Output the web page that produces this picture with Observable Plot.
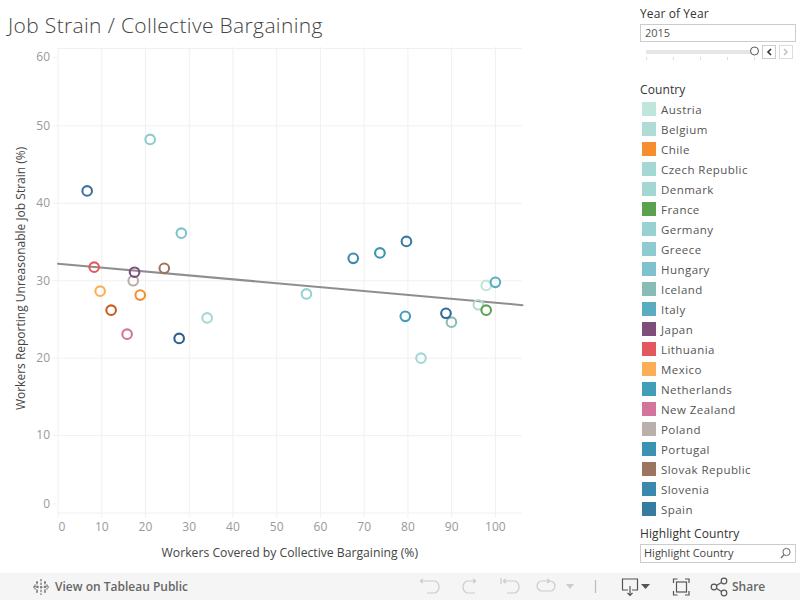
<!DOCTYPE html>
<html>
<head>
<meta charset="utf-8">
<script src="https://cdn.jsdelivr.net/npm/d3@7"></script>
<script src="https://cdn.jsdelivr.net/npm/@observablehq/plot@0.6"></script>
<style>
html,body{margin:0;padding:0;background:#fff;width:800px;height:600px;overflow:hidden;font-family:"Open Sans",sans-serif}
.a{position:absolute;white-space:nowrap}
#title{left:8px;top:11px;font-size:21px;line-height:28px;color:#444;font-weight:300;letter-spacing:.35px}
#plot{left:0;top:0}
#plot svg{display:block;background:transparent}
.h{font-size:12px;line-height:16px;color:#333;left:640px;letter-spacing:.1px}
.box{left:640px;width:154px;border:1px solid #ccc;box-sizing:content-box;background:#fff;font-size:11px;color:#555;padding-left:0}
.sw{left:642px;width:14px;height:14px}
.lt{left:661px;font-size:11.5px;line-height:16px;color:#555;letter-spacing:.45px}
#bar{left:0;top:573px;width:800px;height:27px;background:#f5f5f5}
.bt{font-size:12px;font-weight:600;color:#666;line-height:16px}
</style>
</head>
<body>
<div class="a" id="plot"></div>
<div class="a" id="title">Job Strain / Collective Bargaining</div>
<div class="a h" style="top:6px">Year of Year</div>
<div class="a box" style="top:24px;height:16px;line-height:16px"><span style="margin-left:4px">2015</span></div>
<svg class="a" style="left:640px;top:42px" width="160" height="22">
  <rect x="6" y="8" width="108" height="4" fill="#e6e6e6"/>
  <g stroke="#ddd"><path d="M6.5 15v3M33.5 15v3M60.5 15v3M87.5 15v3M114.5 15v3"/></g>
  <circle cx="114.5" cy="9" r="4" fill="#fff" stroke="#555"/>
  <rect x="122.5" y="3.5" width="13" height="13" fill="#fff" stroke="#ccc"/>
  <path d="M131 7l-3 3 3 3" fill="none" stroke="#333" stroke-width="1.6"/>
  <rect x="139.5" y="3.5" width="13" height="13" fill="#fff" stroke="#ddd"/>
  <path d="M144 7l3 3-3 3" fill="none" stroke="#bbb" stroke-width="1.4"/>
</svg>
<div class="a h" style="top:82px">Country</div>
<div id="legend"></div>
<div class="a h" style="top:526px">Highlight Country</div>
<div class="a box" style="top:544px;height:17px;line-height:16px;color:#444"><span style="margin-left:3px">Highlight Country</span></div>
<svg class="a" style="left:779px;top:546px" width="14" height="14"><circle cx="7.5" cy="6" r="3.6" fill="none" stroke="#666"/><path d="M5 8.6L2 12" stroke="#666" stroke-width="1.2"/></svg>
<div class="a" id="bar"></div>
<svg class="a" style="left:32px;top:577px" width="18" height="20" fill="none" stroke="#555">
  <path d="M9 2v16M1 10h16M5 5v10M13 5v10M3 7.5v5M15 7.5v5M4 5h2M12 5h2M4 15h2M12 15h2" stroke-dasharray="2.4 1.2"/>
</svg>
<div class="a bt" style="left:55px;top:579px">View on Tableau Public</div>
<svg class="a" style="left:410px;top:573px" width="340" height="27" fill="none" stroke="#ccc" stroke-width="1.2">
  <path d="M10 8h15a0 0 0 0 1 0 0a6.500 6.500 0 0 1 0 12h-8M10 8l3-2M10 8l3 2"/>
  <path d="M66 8H57a6.500 6.500 0 0 0 0 12h8M66 8l-3-2M66 8l-3 2"/>
  <path d="M91 5v6M93 8h12a6.500 6.500 0 0 1 0 12h-8M93 8l3-2M93 8l3 2"/>
  <path d="M140 8h-8a4.500 4.500 0 0 0 0 10h8a4.500 4.500 0 0 0 0-10M140 8l-3-2M140 8l-3 2"/>
  <path d="M156 11h8l-4 5z" fill="#ccc" stroke="none"/>
  <path d="M185.500 7v13" stroke="#bbb"/>
  <g stroke="#555">
    <path d="M218 17h-5.500v-11h15v11h-5.500M220 13v9M217.500 20l2.500 2.500 2.500-2.500"/>
    <path d="M231 11h9l-4.500 5z" fill="#555" stroke="none"/>
    <path d="M263.500 10v-4h4M275 6h4v4M279 18v4h-4M267.500 22h-4v-4"/>
    <rect x="266.500" y="9" width="10" height="10"/>
    <circle cx="304" cy="14" r="2.800"/><circle cx="314" cy="8" r="2.800"/><circle cx="314" cy="20" r="2.800"/>
    <path d="M306.500 12.500l5-3M306.500 15.500l5 3"/>
  </g>
</svg>
<div class="a bt" style="left:732px;top:579px">Share</div>
<script>
const countries = ["Austria","Belgium","Chile","Czech Republic","Denmark","France","Germany","Greece","Hungary","Iceland","Italy","Japan","Lithuania","Mexico","Netherlands","New Zealand","Poland","Portugal","Slovak Republic","Slovenia","Spain"];
const swatches = ["#bfe6db","#b0dcd6","#f58e2f","#a4d8d5","#a3d7d3","#5ba150","#98d1d2","#8dcbd1","#7fc2cd","#88bdb5","#5aacc1","#7f4d7a","#e3585e","#fbae55","#429db9","#d4739b","#bab0ab","#3b93b3","#9c755f","#3a88ab","#367ca0"];
const coverage = [97.9,96.1,18.8,34.1,83,97.9,56.8,21.07,28.2,89.95,100,17.5,8.27,9.64,79.4,15.8,17.2,73.6,24.3,67.5,79.66];
const strain = [29.4,26.9,28.15,25.2,20,26.2,28.3,48.25,36.15,24.65,29.8,31.1,31.76,28.65,25.4,23.1,30,33.6,31.6,32.9,35.08];
// Four more points have no visible legend row: the legend is cut off in the reference.
const extraCoverage = [6.67,12.15,27.7,88.7];
const extraStrain = [41.6,26.2,22.55,25.8];
const extraColors = ["#3f71a0","#c85a1e","#2a5f8f","#2b6a9a"];
const trendX = [0,106.2];
const trendY = [32.2,26.85];
const xTicks = [0,10,20,30,40,50,60,70,80,90,100];
const yTicks = [0,10,20,30,40,50,60];

const points = [
  ...countries.map((c,i)=>({x:coverage[i],y:strain[i],c:swatches[i]})),
  ...extraCoverage.map((x,i)=>({x,y:extraStrain[i],c:extraColors[i]}))
].sort((a,b)=>(a.c==="#bab0ab")?-1:(b.c==="#bab0ab")?1:0);
const trend = trendX.map((x,i)=>({x,y:trendY[i]}));

const grid = "#f0f0f0", tickText = "#999", titleC = "#444";
const chart = Plot.plot({
  width:640, height:572,
  marginLeft:57.5, marginRight:118, marginTop:47, marginBottom:59.5,
  style:{background:"transparent",fontFamily:"'Open Sans',sans-serif",fontSize:"12px"},
  x:{domain:[0,106.2],label:null},
  y:{domain:[0,60.13],label:null},
  color:{type:"identity"},
  marks:[
    Plot.gridX(xTicks,{stroke:grid,strokeOpacity:1}),
    Plot.gridY(yTicks,{stroke:grid,strokeOpacity:1}),
    Plot.axisX({ticks:xTicks,stroke:grid,tickSize:5,tickPadding:4,color:tickText,tickFormat:d=>d===0?"":d,label:null}),
    Plot.axisX({ticks:[0],tickSize:0,tickPadding:9,dx:4,color:tickText,label:null}),
    Plot.axisY({ticks:yTicks.slice(1,-1),stroke:grid,tickSize:5,tickPadding:3,color:tickText,label:null}),
    Plot.axisY({ticks:[0],stroke:grid,tickSize:5,tickPadding:3,dy:-9,color:tickText,label:null}),
    Plot.axisY({ticks:[60],stroke:grid,tickSize:5,tickPadding:3,dy:9,color:tickText,label:null}),
    Plot.line(trend,{x:"x",y:"y",stroke:"#8f8d8d",strokeWidth:2}),
    Plot.dot(points,{x:"x",y:"y",r:4.8,stroke:"c",strokeWidth:2.1,fill:"none"}),
    Plot.text(["Workers Covered by Collective Bargaining (%)"],{frameAnchor:"bottom",x:[53],text:d=>d,dy:44,fontSize:12.2,fontWeight:500,fill:titleC}),
    Plot.text(["Workers Reporting Unreasonable Job Strain (%)"],{frameAnchor:"left",textAnchor:"middle",y:[30.3],text:d=>d,dx:-37,rotate:-90,fontSize:12,fontWeight:500,fill:titleC})
  ]
});
document.getElementById("plot").appendChild(chart);

const lg = document.getElementById("legend");
countries.forEach((c,i)=>{
  const s=document.createElement("div");s.className="a sw";s.style.top=(102+20*i)+"px";s.style.background=swatches[i];lg.appendChild(s);
  const t=document.createElement("div");t.className="a lt";t.style.top=(101.500+20*i)+"px";t.textContent=c;lg.appendChild(t);
});
</script>
</body>
</html>
